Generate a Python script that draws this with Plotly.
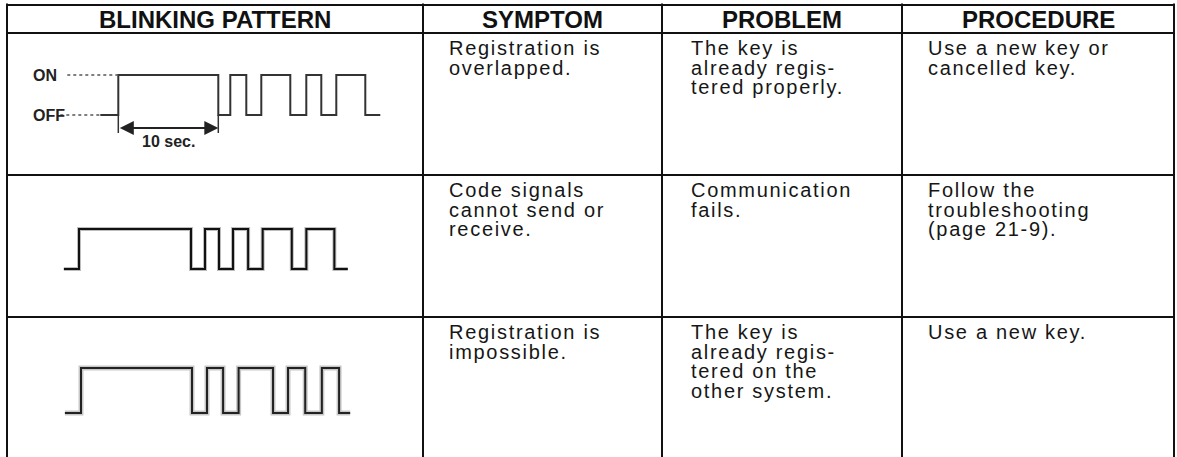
import plotly.graph_objects as go

W, H = 1177, 457

# ---------------- data ----------------
headers = ["BLINKING PATTERN", "SYMPTOM", "PROBLEM", "PROCEDURE"]
symptoms = [["Registration is", "overlapped."],
            ["Code signals", "cannot send or", "receive."],
            ["Registration is", "impossible."]]
problems = [["The key is", "already regis-", "tered properly."],
            ["Communication", "fails."],
            ["The key is", "already regis-", "tered on the", "other system."]]
procedures = [["Use a new key or", "cancelled key."],
              ["Follow the", "troubleshooting", "(page 21-9)."],
              ["Use a new key."]]

# blinking patterns: edge times (s); signal starts OFF and toggles at each edge
pattern1_edges = [0, 10, 11.2, 12.8, 14.3, 17.2, 18.8, 20.3, 21.8, 24.7]
pattern1_span = [-1.8, 26.2]
pattern2_edges = [0, 10, 11.25, 12.5, 13.75, 15.1, 16.4, 19.0, 20.3, 22.8]
pattern2_span = [-1.35, 24.0]
pattern3_edges = [0, 10, 11.35, 12.8, 14.2, 17.3, 18.65, 20.2, 21.7, 23.25]
pattern3_span = [-1.45, 24.25]
level_labels = ["ON", "OFF"]
duration = [0, 10]
duration_label = "10 sec."

# ---------------- layout constants ----------------
col_x = [7, 423, 662, 902, 1174]
row_y = [5, 33, 175, 317, 457]
text_x = [447, 689, 926]
text_top_off = 2.2
LINE_GAP = 19.75             # px between text lines (1.3 x base font size)
GLYPH_PX = 20                # visible glyph size
LETTER_SP = 1.7              # px of extra letter spacing (wide type in the original)
BODY_FONT = dict(family="Liberation Sans, Arial", size=LINE_GAP / 1.3, color="#161616")
HEAD_FONT = dict(family="Liberation Sans, Arial", size=24, color="#111", weight="bold")
# per pattern: (px of t=0, px per second, OFF level px, ON level px)
placements = [(118.3, 10.0, 115, 75), (79, 11.2, 269, 229), (81, 11.1, 413, 368)]

fig = go.Figure()


def step_xy(edges, span):
    xs = [span[0]] + list(edges) + [span[1]]
    ys = [0] + [(i + 1) % 2 for i in range(len(edges))] + [0]
    return xs, ys


patterns = [(pattern1_edges, pattern1_span), (pattern2_edges, pattern2_span),
            (pattern3_edges, pattern3_span)]
styles = [
    dict(under=None, color="#333", width=2),
    dict(under=dict(color="#bdbdbd", width=4), color="#111", width=2),
    dict(under=dict(color="rgba(0,0,0,0.22)", width=5), color="#222", width=2),
]

layout_axes = {}
for k, ((edges, span), (t0, s, yoff, yon), st) in enumerate(zip(patterns, placements, styles)):
    ax_id = k + 2
    xa, ya = f"x{ax_id}", f"y{ax_id}"
    xs, ys = step_xy(edges, span)
    if st["under"]:
        fig.add_trace(go.Scatter(x=xs, y=ys, mode="lines", line_shape="hv",
                                 line=dict(color=st["under"]["color"], width=st["under"]["width"]),
                                 xaxis=xa, yaxis=ya, hoverinfo="skip", showlegend=False))
    fig.add_trace(go.Scatter(x=xs, y=ys, mode="lines", line_shape="hv",
                             line=dict(color=st["color"], width=st["width"]),
                             xaxis=xa, yaxis=ya, hoverinfo="skip", showlegend=False))
    r0, r1 = row_y[k + 1], row_y[k + 2]
    unit = yoff - yon
    layout_axes[f"xaxis{ax_id}"] = dict(domain=[col_x[0] / W, col_x[1] / W],
                                        range=[(col_x[0] - t0) / s, (col_x[1] - t0) / s],
                                        anchor=ya, visible=False, fixedrange=True)
    layout_axes[f"yaxis{ax_id}"] = dict(domain=[1 - r1 / H, 1 - r0 / H],
                                        range=[(yoff - r1) / unit, (yoff - r0) / unit],
                                        anchor=xa, visible=False, fixedrange=True)

# pattern 1 extras: dotted level guides, ON/OFF labels, 10 sec dimension
fig.add_trace(go.Scatter(x=[-5.1, 0], y=[1, 1], mode="lines",
                         line=dict(color="#555", width=1.5, dash="dot"),
                         xaxis="x2", yaxis="y2", hoverinfo="skip", showlegend=False))
fig.add_trace(go.Scatter(x=[-5.8, pattern1_span[0]], y=[0, 0], mode="lines",
                         line=dict(color="#555", width=1.5, dash="dot"),
                         xaxis="x2", yaxis="y2", hoverinfo="skip", showlegend=False))
fig.add_trace(go.Scatter(x=[duration[0], duration[0], None, duration[1], duration[1]],
                         y=[0, -0.45, None, 0, -0.45], mode="lines",
                         line=dict(color="#333", width=1.5),
                         xaxis="x2", yaxis="y2", hoverinfo="skip", showlegend=False))

annotations = []
for lbl, lev in zip(level_labels, [1, 0]):
    annotations.append(dict(text=lbl, x=-8.75, y=lev, xref="x2", yref="y2",
                            xanchor="left", yanchor="middle", showarrow=False,
                            font=dict(family="Liberation Sans, Arial", size=16,
                                      color="#222", weight="bold")))
annotations.append(dict(text="", x=duration[1], y=-0.325, ax=duration[0], ay=-0.325,
                        xref="x2", yref="y2", axref="x2", ayref="y2",
                        showarrow=True, arrowside="end+start", arrowhead=2,
                        startarrowhead=2, arrowsize=1.4, startarrowsize=1.4,
                        arrowwidth=2, arrowcolor="#222", standoff=0, startstandoff=0))
annotations.append(dict(text=duration_label, x=sum(duration) / 2, y=-0.67,
                        xref="x2", yref="y2", xanchor="center", yanchor="middle",
                        showarrow=False,
                        font=dict(family="Liberation Sans, Arial", size=16,
                                  color="#222", weight="bold")))

# header texts
for i, h in enumerate(headers):
    annotations.append(dict(text=h, x=(col_x[i] + col_x[i + 1]) / 2,
                            y=(row_y[0] + row_y[1]) / 2 + 0.5,
                            xref="x", yref="y", xanchor="center", yanchor="middle",
                            showarrow=False, font=HEAD_FONT))

# body texts: one annotation per cell, tight line spacing via small base font
span_style = f"font-size:{GLYPH_PX}px;letter-spacing:{LETTER_SP}px"
for r in range(3):
    for c, col in enumerate([symptoms, problems, procedures]):
        txt = "<br>".join(f"<span style='{span_style}'>{ln}</span>" for ln in col[r])
        annotations.append(dict(text=txt, x=text_x[c], y=row_y[r + 1] + text_top_off,
                                xref="x", yref="y", xanchor="left", yanchor="top",
                                align="left", showarrow=False, font=BODY_FONT))

# table grid
shapes = []
for x in col_x:
    shapes.append(dict(type="line", x0=x, x1=x, y0=3.5, y1=H, xref="x", yref="y",
                       line=dict(color="#111", width=2)))
for y in row_y[:-1]:
    shapes.append(dict(type="line", x0=col_x[0], x1=col_x[-1], y0=y, y1=y,
                       xref="x", yref="y", line=dict(color="#111", width=2)))

fig.update_layout(
    width=W, height=H,
    margin=dict(l=0, r=0, t=0, b=0),
    paper_bgcolor="white", plot_bgcolor="white",
    showlegend=False,
    xaxis=dict(domain=[0, 1], range=[0, W], visible=False, fixedrange=True),
    yaxis=dict(domain=[0, 1], range=[H, 0], visible=False, fixedrange=True),
    annotations=annotations,
    shapes=shapes,
    **layout_axes,
)

fig.write_html("out.html", config={"displayModeBar": False},
               post_script="document.body.style.margin='0';")
